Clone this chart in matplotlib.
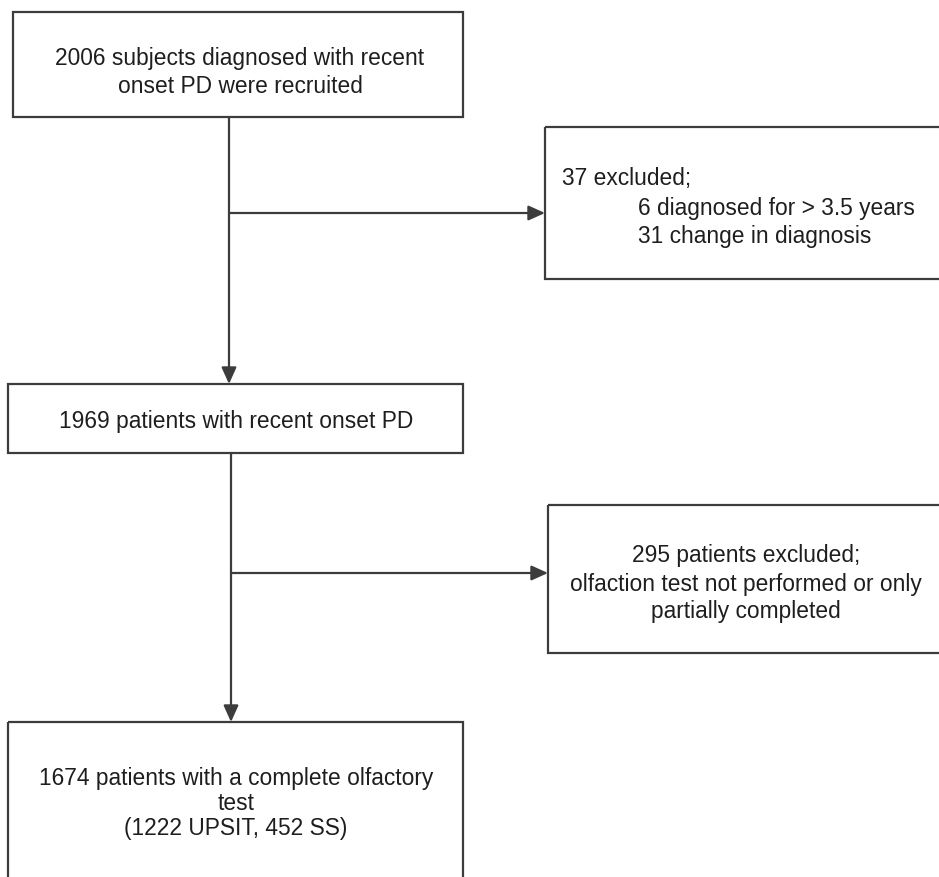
import matplotlib.pyplot as plt
from matplotlib.patches import Rectangle

plt.rcParams['font.family'] = ['Liberation Sans', 'DejaVu Sans']

# flow chart content
main_texts = [
    ['2006 subjects diagnosed with recent', 'onset PD were recruited'],
    ['1969 patients with recent onset PD'],
    ['1674 patients with a complete olfactory', 'test', '(1222 UPSIT, 452 SS)'],
]
excl_1 = ['37 excluded;', '6 diagnosed for > 3.5 years', '31 change in diagnosis']
excl_2 = ['295 patients excluded;', 'olfaction test not performed or only', 'partially completed']

LC = '#3c3c3c'
TC = '#1e1e1e'
FS = 16.4

fig = plt.figure(figsize=(9.39, 8.77), dpi=100)
ax = fig.add_axes([0, 0, 1, 1])
ax.set_xlim(0, 939)
ax.set_ylim(877, 0)
ax.axis('off')


def box(x0, y0, x1, y1):
    ax.add_patch(Rectangle((x0, y0), x1 - x0, y1 - y0, fill=False,
                           edgecolor=LC, lw=1.6))


def arrow(x0, y0, x1, y1):
    ax.annotate('', xy=(x1, y1), xytext=(x0, y0),
                arrowprops=dict(arrowstyle='-|>,head_length=1.0,head_width=0.45',
                                color=LC, lw=1.6, shrinkA=0, shrinkB=0))


def lines(x, ys, texts, ha='center'):
    for y, t in zip(ys, texts):
        ax.text(x, y + 8, t, ha=ha, va='baseline', fontsize=FS, color=TC)


# boxes
box(13, 12, 463, 117)
box(8, 384, 463, 453)
box(8, 722, 463, 900)
box(545, 127, 960, 279)
box(548, 505, 960, 653)

# connectors
arrow(229, 117, 229, 384)
arrow(229, 213, 545, 213)
arrow(231, 453, 231, 722)
arrow(231, 573, 548, 573)

# texts
lines(240, [57, 85], main_texts[0])
lines(236, [420], main_texts[1])
lines(236, [777, 802, 827], main_texts[2])
lines(562, [177], excl_1[:1], ha='left')
lines(638, [207, 235], excl_1[1:], ha='left')
lines(746, [554, 583, 610], excl_2)

fig.savefig('out.png', dpi=100, facecolor='white')
